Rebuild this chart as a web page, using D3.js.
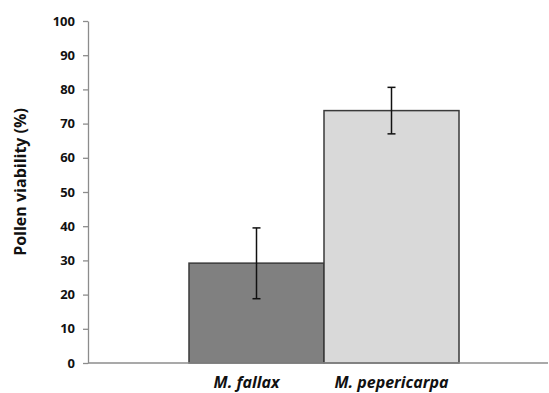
<!DOCTYPE html>
<html>
<head>
<meta charset="utf-8">
<script src="https://cdn.jsdelivr.net/npm/d3@7"></script>
<style>
  body { margin: 0; background: #fff; }
  text { font-family: "Open Sans", "Liberation Sans", sans-serif; }
</style>
</head>
<body>
<div id="chart"></div>
<script>
const species = ["M. fallax", "M. pepericarpa"];
const viability = [29.2, 73.8];
const errLow = [18.8, 67.0];
const errHigh = [39.5, 80.6];
const barColors = ["#808080", "#d9d9d9"];
const yTicks = [0, 10, 20, 30, 40, 50, 60, 70, 80, 90, 100];

const width = 549, height = 393;
const margin = { top: 21, right: 1, bottom: 30, left: 88 };

const svg = d3.select("#chart").append("svg")
    .attr("width", width)
    .attr("height", height);

const y = d3.scaleLinear()
    .domain([0, 100])
    .range([363, margin.top]);

const x = d3.scaleBand()
    .domain(species)
    .range([189, 459])
    .paddingInner(0)
    .paddingOuter(0);

// bars
svg.selectAll("rect.bar")
  .data(species)
  .join("rect")
    .attr("class", "bar")
    .attr("x", d => x(d))
    .attr("y", (d, i) => y(viability[i]))
    .attr("width", x.bandwidth())
    .attr("height", (d, i) => y(0) - y(viability[i]))
    .attr("fill", (d, i) => barColors[i])
    .attr("stroke", "#3a3a3a")
    .attr("stroke-width", 1.5);

// error bars
const eb = svg.selectAll("g.err")
  .data(species)
  .join("g")
    .attr("class", "err")
    .attr("stroke", "#111")
    .attr("stroke-width", 1.5);

eb.append("line")
    .attr("x1", d => x(d) + x.bandwidth() / 2)
    .attr("x2", d => x(d) + x.bandwidth() / 2)
    .attr("y1", (d, i) => y(errLow[i]))
    .attr("y2", (d, i) => y(errHigh[i]));
eb.append("line")
    .attr("x1", d => x(d) + x.bandwidth() / 2 - 4)
    .attr("x2", d => x(d) + x.bandwidth() / 2 + 4)
    .attr("y1", (d, i) => y(errHigh[i]))
    .attr("y2", (d, i) => y(errHigh[i]));
eb.append("line")
    .attr("x1", d => x(d) + x.bandwidth() / 2 - 4)
    .attr("x2", d => x(d) + x.bandwidth() / 2 + 4)
    .attr("y1", (d, i) => y(errLow[i]))
    .attr("y2", (d, i) => y(errLow[i]));

// y axis
const yAxis = svg.append("g")
    .attr("transform", `translate(${margin.left},0)`)
    .call(d3.axisLeft(y).tickValues(yTicks).tickSize(5).tickSizeOuter(0).tickPadding(8));
yAxis.select(".domain").attr("stroke", "#8c8c8c").attr("stroke-width", 1.3);
yAxis.selectAll(".tick line").attr("stroke", "#8c8c8c").attr("stroke-width", 1.3);
yAxis.selectAll(".tick text")
    .attr("fill", "#111")
    .attr("font-size", 13)
    .attr("font-weight", "bold")
    .style("font-family", "'Open Sans', sans-serif");

// x axis baseline
svg.append("line")
    .attr("x1", margin.left)
    .attr("x2", width - margin.right)
    .attr("y1", y(0))
    .attr("y2", y(0))
    .attr("stroke", "#8c8c8c")
    .attr("stroke-width", 1.5);

// category labels (first label sits a little left of its bar in the original)
const labelShift = [-10, 0];
svg.selectAll("text.cat")
  .data(species)
  .join("text")
    .attr("class", "cat")
    .attr("x", (d, i) => x(d) + x.bandwidth() / 2 + labelShift[i])
    .attr("y", 388)
    .attr("text-anchor", "middle")
    .attr("font-size", 16)
    .attr("font-weight", "bold")
    .attr("font-style", "italic")
    .attr("fill", "#111")
    .text(d => d);

// y title
svg.append("text")
    .attr("transform", "translate(26,182) rotate(-90)")
    .attr("text-anchor", "middle")
    .attr("font-size", 16)
    .attr("font-weight", "bold")
    .attr("fill", "#111")
    .text("Pollen viability (%)");
</script>
</body>
</html>
